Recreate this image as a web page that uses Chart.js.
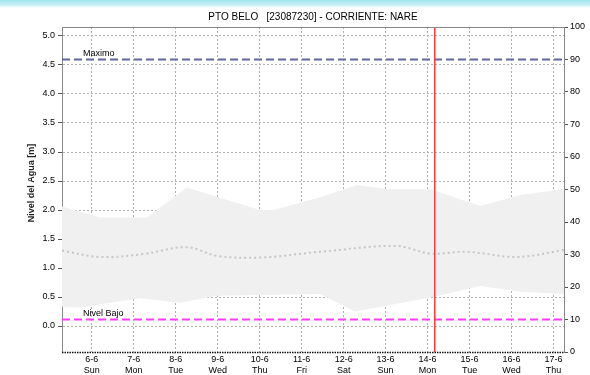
<!DOCTYPE html>
<html>
<head>
<meta charset="utf-8">
<script src="https://cdn.jsdelivr.net/npm/chart.js@4.4.1/dist/chart.umd.min.js"></script>
<style>
  html, body { margin: 0; padding: 0; background: #fff; }
  #wrap { width: 590px; height: 375px; position: relative; }
</style>
</head>
<body>
<div id="wrap"><canvas id="c" width="590" height="375"></canvas></div>
<script>
const chartTitle = 'PTO BELO   [23087230] - CORRIENTE: NARE';
const yTitle = 'Nivel del Agua [m]';

// eje x: dias desde el 6-6
const dayLabels = ['6-6', '7-6', '8-6', '9-6', '10-6', '11-6', '12-6', '13-6', '14-6', '15-6', '16-6', '17-6'];
const weekDays = ['Sun', 'Mon', 'Tue', 'Wed', 'Thu', 'Fri', 'Sat', 'Sun', 'Mon', 'Tue', 'Wed', 'Thu'];
const leftTicks = [0, 0.5, 1, 1.5, 2, 2.5, 3, 3.5, 4, 4.5, 5];

// banda de niveles (limite superior / inferior) y mediana
const highX = [-0.71, 0.2, 1.31, 2.26, 4.01, 4.32, 5.44, 6.32, 7.03, 8.06, 9.25, 10.21, 11.25];
const highY = [2.06, 1.87, 1.87, 2.39, 2.0, 2.0, 2.22, 2.43, 2.36, 2.36, 2.07, 2.26, 2.36];
const lowX = [-0.71, -0.28, 1.15, 2.1, 2.98, 5.44, 6.27, 8.13, 9.25, 10.21, 11.25];
const lowY = [0.33, 0.32, 0.48, 0.40, 0.52, 0.55, 0.25, 0.50, 0.69, 0.59, 0.55];
const medX = [-0.71, 0.2, 1.22, 2.26, 2.98, 4.01, 5.44, 7.27, 8.06, 8.94, 10.13, 11.25];
const medY = [1.30, 1.19, 1.24, 1.36, 1.21, 1.18, 1.28, 1.38, 1.25, 1.28, 1.19, 1.31];

// niveles de referencia (eje derecho, %)
const maxLevel = 90;
const lowLevel = 10;
const nowDay = 8.17;

const pts = (xs, ys) => xs.map((x, i) => ({ x: x, y: ys[i] }));
const FONT = "'Liberation Sans', Arial, sans-serif";

const decor = {
  id: 'decor',
  beforeDraw(chart) {
    const ctx = chart.ctx;
    ctx.save();
    ctx.fillStyle = '#fff';
    ctx.fillRect(0, 0, chart.width, chart.height);
    const g = ctx.createLinearGradient(0, 0, 0, 8);
    g.addColorStop(0, '#9ee4ef');
    g.addColorStop(0.6, '#c8f0f6');
    g.addColorStop(1, '#ffffff');
    ctx.fillStyle = g;
    ctx.fillRect(0, 0, chart.width, 8);
    ctx.restore();
  },
  afterDraw(chart) {
    const ctx = chart.ctx;
    const a = chart.chartArea;
    const xs = chart.scales.x, y1 = chart.scales.y1;
    ctx.save();
    // titulo
    ctx.fillStyle = '#000';
    ctx.font = '10px ' + FONT;
    ctx.textAlign = 'center';
    ctx.textBaseline = 'middle';
    ctx.fillText(chartTitle, 313, 17);
    // titulo eje y
    ctx.save();
    ctx.translate(32, 183);
    ctx.rotate(-Math.PI / 2);
    ctx.font = 'bold 9px ' + FONT;
    ctx.fillStyle = '#222';
    ctx.fillText(yTitle, 0, 0);
    ctx.restore();
    // bordes
    ctx.strokeStyle = '#888';
    ctx.lineWidth = 1;
    ctx.beginPath();
    ctx.moveTo(a.left, a.top + 0.5);
    ctx.lineTo(a.right, a.top + 0.5);
    ctx.stroke();
    ctx.strokeStyle = '#111';
    ctx.lineWidth = 1.5;
    ctx.setLineDash([1.5, 1]);
    ctx.beginPath();
    ctx.moveTo(a.left, a.bottom + 0.5);
    ctx.lineTo(a.right, a.bottom + 0.5);
    ctx.stroke();
    ctx.setLineDash([]);
    // etiquetas de niveles
    ctx.font = '9px ' + FONT;
    ctx.textAlign = 'left';
    ctx.textBaseline = 'bottom';
    ctx.fillStyle = '#000';
    ctx.fillText('Maximo', xs.getPixelForValue(-0.21), y1.getPixelForValue(maxLevel) - 1);
    ctx.fillText('Nivel Bajo', xs.getPixelForValue(-0.21), y1.getPixelForValue(lowLevel) - 1);
    ctx.restore();
  }
};

new Chart(document.getElementById('c'), {
  type: 'line',
  data: {
    datasets: [
      {
        data: pts(lowX, lowY), yAxisID: 'y', borderWidth: 0, pointRadius: 0,
        borderColor: 'rgba(0,0,0,0)', fill: false, order: 6
      },
      {
        data: pts(highX, highY), yAxisID: 'y', borderWidth: 0, pointRadius: 0,
        borderColor: 'rgba(0,0,0,0)', backgroundColor: '#f0f0f0', fill: '-1', order: 5
      },
      {
        data: pts(medX, medY), yAxisID: 'y', borderColor: '#c6c6c6', borderWidth: 2,
        borderDash: [2, 3], pointRadius: 0, tension: 0.35, fill: false, order: 4
      },
      {
        data: [{ x: -0.71, y: maxLevel }, { x: 11.25, y: maxLevel }], yAxisID: 'y1',
        borderColor: '#5f6b9f', borderWidth: 2, borderDash: [8, 4], pointRadius: 0, fill: false, order: 2
      },
      {
        data: [{ x: -0.71, y: lowLevel }, { x: 11.25, y: lowLevel }], yAxisID: 'y1',
        borderColor: '#ff3cff', borderWidth: 2, borderDash: [8, 4], pointRadius: 0, fill: false, order: 2
      },
      {
        data: [{ x: nowDay, y: 0 }, { x: nowDay, y: 100 }], yAxisID: 'y1',
        borderColor: '#ff3a3a', borderWidth: 1.5, pointRadius: 0, fill: false, order: 1
      }
    ]
  },
  options: {
    responsive: false,
    animation: false,
    layout: { padding: { top: 27, left: 0, right: 0, bottom: 0 } },
    plugins: { legend: { display: false }, title: { display: false }, tooltip: { enabled: false } },
    scales: {
      x: {
        type: 'linear', min: -0.71, max: 11.25,
        afterBuildTicks: s => { s.ticks = dayLabels.map((_, i) => ({ value: i })); },
        afterFit: s => { s.height = 23; },
        ticks: {
          autoSkip: false, maxRotation: 0, padding: 2, color: '#000',
          font: { family: FONT, size: 9 },
          callback: v => [dayLabels[v], weekDays[v]]
        },
        grid: { color: '#b0b0b0', drawTicks: false },
        border: { display: false, dash: [2, 2] }
      },
      y: {
        position: 'left', min: -0.448, max: 5.155,
        afterBuildTicks: s => { s.ticks = leftTicks.map(v => ({ value: v })); },
        afterFit: s => { s.width = 62; },
        ticks: {
          color: '#000', padding: 3, font: { family: FONT, size: 9 },
          callback: v => Number(v).toFixed(1)
        },
        grid: { color: '#b0b0b0', tickColor: '#555', tickLength: 4 },
        border: { color: '#888', dash: [2, 2] }
      },
      y1: {
        position: 'right', min: 0, max: 100,
        afterFit: s => { s.width = 26; },
        ticks: { stepSize: 10, color: '#000', padding: 2, font: { family: FONT, size: 9 } },
        grid: { drawOnChartArea: false, color: '#555', tickLength: 4 },
        border: { color: '#888' }
      }
    }
  },
  plugins: [decor]
});
</script>
</body>
</html>
